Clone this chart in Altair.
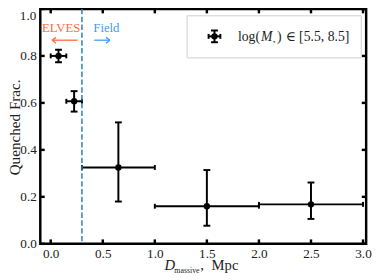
import altair as alt
import pandas as pd

# ---- data ----
x_center = [0.075, 0.225, 0.65, 1.5, 2.5]
x_lo = [0.0, 0.15, 0.3, 1.0, 2.0]
x_hi = [0.15, 0.3, 1.0, 2.0, 3.0]
y_val = [0.800, 0.607, 0.325, 0.160, 0.168]
y_lo = [0.773, 0.563, 0.180, 0.077, 0.106]
y_hi = [0.826, 0.650, 0.517, 0.314, 0.261]

x_ticks = [0.0, 0.5, 1.0, 1.5, 2.0, 2.5, 3.0]
y_ticks = [0.0, 0.2, 0.4, 0.6, 0.8, 1.0]
y_top_label = "1.0"
split_x = [0.3]

ann_labels = ["ELVES", "Field"]
ann_x = [0.10, 0.535]
ann_y = [0.90, 0.90]
ann_colors = ["#ff6a3d", "#3d9df5"]

# arrow segments (shaft + two head strokes each)
arr_x = [0.013, 0.013, 0.013, 0.418, 0.569, 0.569]
arr_x2 = [0.258, 0.051, 0.051, 0.569, 0.531, 0.531]
arr_y = [0.867, 0.867, 0.867, 0.867, 0.867, 0.867]
arr_y2 = [0.867, 0.879, 0.854, 0.867, 0.879, 0.854]
arr_c = ["#ff6a3d"] * 3 + ["#3d9df5"] * 3

FONT = "Liberation Serif, DejaVu Serif, serif"
W, H = 333, 240
xs = alt.Scale(domain=[-0.1, 3.03], nice=False, zero=False)
ys = alt.Scale(domain=[0, 1], nice=False, zero=False)


def X(f, **kw):
    return alt.X(f, type="quantitative", scale=xs, title=None, **kw)


def Y(f, **kw):
    return alt.Y(f, type="quantitative", scale=ys, title=None, **kw)


df = pd.DataFrame(dict(x=x_center, xlo=x_lo, xhi=x_hi, y=y_val, ylo=y_lo, yhi=y_hi))
base = alt.Chart(df)

ax_x = alt.Axis(values=x_ticks, format=".1f", labelFont=FONT, labelFontSize=13.5,
                labelColor="#222", ticks=False, domain=False, grid=False,
                labelPadding=3, labelFlush=False)
ax_y = alt.Axis(values=y_ticks[:-1], format=".1f", labelFont=FONT, labelFontSize=13.5,
                labelColor="#222", ticks=False, domain=False, grid=False,
                labelPadding=4, labelFlush=False)

hbar = base.mark_rule(color="black", strokeWidth=2).encode(
    x=X("xlo", axis=ax_x), x2="xhi", y=Y("y", axis=ax_y))
vbar = base.mark_rule(color="black", strokeWidth=2).encode(
    x=X("x"), y=Y("ylo"), y2="yhi")
xcap_lo = base.mark_tick(orient="vertical", size=5, thickness=2, color="black", opacity=1).encode(
    x=X("xlo"), y=Y("y"))
xcap_hi = base.mark_tick(orient="vertical", size=5, thickness=2, color="black", opacity=1).encode(
    x=X("xhi"), y=Y("y"))
ycap_lo = base.mark_tick(orient="horizontal", size=7, thickness=2, color="black", opacity=1).encode(
    x=X("x"), y=Y("ylo"))
ycap_hi = base.mark_tick(orient="horizontal", size=7, thickness=2, color="black", opacity=1).encode(
    x=X("x"), y=Y("yhi"))
pts = base.mark_circle(size=42, color="black", opacity=1).encode(x=X("x"), y=Y("y"))

dash = alt.Chart(pd.DataFrame({"x": split_x})).mark_rule(
    color="#2a7fc0", strokeDash=[5.5, 2.5], strokeWidth=1.5).encode(x=X("x"))

ann_df = pd.DataFrame(dict(label=ann_labels, x=ann_x, y=ann_y, c=ann_colors))
ann = alt.Chart(ann_df).mark_text(font=FONT, fontSize=13, align="center",
                                  baseline="alphabetic").encode(
    x=X("x"), y=Y("y"), text="label:N", color=alt.Color("c:N", scale=None))

arr_df = pd.DataFrame(dict(x=arr_x, x2=arr_x2, y=arr_y, y2=arr_y2, c=arr_c))
arrows = alt.Chart(arr_df).mark_rule(strokeWidth=1.3).encode(
    x=X("x"), x2="x2", y=Y("y"), y2="y2", color=alt.Color("c:N", scale=None))

# inward ticks on all four sides
xt = alt.Chart(pd.DataFrame({"t": x_ticks}))
yt = alt.Chart(pd.DataFrame({"t": y_ticks}))
tk = dict(color="black", strokeWidth=2.5)
t_bot = xt.mark_rule(**tk).encode(x=X("t"), y=alt.value(H), y2=alt.value(H - 4.5))
t_top = xt.mark_rule(**tk).encode(x=X("t"), y=alt.value(0), y2=alt.value(4.5))
t_left = yt.mark_rule(**tk).encode(y=Y("t"), x=alt.value(0), x2=alt.value(4.5))
t_right = yt.mark_rule(**tk).encode(y=Y("t"), x=alt.value(W), x2=alt.value(W - 4.5))

one = alt.Chart(pd.DataFrame({"a": [0]}))


def txt(s, x, y, size, font=FONT, style="normal", align="left", angle=0, baseline="alphabetic"):
    return one.mark_text(text=s, font=font, fontSize=size, fontStyle=style, align=align,
                         baseline=baseline, angle=angle, color="#222").encode(
        x=alt.value(x), y=alt.value(y))


# top y label, nudged down so it is not cut by the page edge
top_lab = txt(y_top_label, -4, 11.5, 13.5, align="right")

# legend
lx, ly = 178, 28
leg_box = one.mark_rect(fill="white", stroke="#d0d0d0", strokeWidth=1).encode(
    x=alt.value(150), x2=alt.value(328), y=alt.value(7), y2=alt.value(50))
leg_h = one.mark_rule(color="black", strokeWidth=2).encode(
    x=alt.value(lx - 6), x2=alt.value(lx + 6), y=alt.value(ly))
leg_v = one.mark_rule(color="black", strokeWidth=2).encode(
    x=alt.value(lx), y=alt.value(ly - 6), y2=alt.value(ly + 6))
leg_c1 = one.mark_rule(color="black", strokeWidth=2).encode(
    x=alt.value(lx - 6), y=alt.value(ly - 2.5), y2=alt.value(ly + 2.5))
leg_c2 = one.mark_rule(color="black", strokeWidth=2).encode(
    x=alt.value(lx + 6), y=alt.value(ly - 2.5), y2=alt.value(ly + 2.5))
leg_c3 = one.mark_rule(color="black", strokeWidth=2).encode(
    x=alt.value(lx - 3.5), x2=alt.value(lx + 3.5), y=alt.value(ly - 6))
leg_c4 = one.mark_rule(color="black", strokeWidth=2).encode(
    x=alt.value(lx - 3.5), x2=alt.value(lx + 3.5), y=alt.value(ly + 6))
leg_pt = one.mark_circle(size=42, color="black", opacity=1).encode(
    x=alt.value(lx), y=alt.value(ly))

tb, LS = 33, 14
leg_texts = [
    txt("log(", 202, tb, LS),
    txt("M", 225.5, tb, LS, style="italic"),
    txt("⋆", 237, tb + 2.5, 7.5, font="DejaVu Serif"),
    txt(")", 242, tb, LS),
    txt("∈", 250.5, tb, LS),
    txt("[5.5, 8.5]", 264.5, tb, LS),
]

# axis titles
ytitle = txt("Quenched Frac.", -20.5, 121, 15.5, align="center", angle=270)
x_title = [
    txt("D", 127, 267, 15, style="italic"),
    txt("massive", 137, 269.5, 8),
    txt(",", 163.5, 267, 15),
    txt("Mpc", 175, 267, 15),
]

chart = alt.layer(
    hbar, vbar, xcap_lo, xcap_hi, ycap_lo, ycap_hi, pts, dash, ann, arrows,
    t_bot, t_top, t_left, t_right, top_lab,
    leg_box, leg_h, leg_v, leg_c1, leg_c2, leg_c3, leg_c4, leg_pt,
    *leg_texts, ytitle, *x_title,
).properties(
    width=W, height=H,
    autosize=alt.AutoSizeParams(type="none"),
    padding={"left": 33, "top": -2, "right": 7, "bottom": 34},
).configure_view(stroke="black", strokeWidth=2.5)

chart.save("out.html", embed_options={"renderer": "svg", "actions": False})
